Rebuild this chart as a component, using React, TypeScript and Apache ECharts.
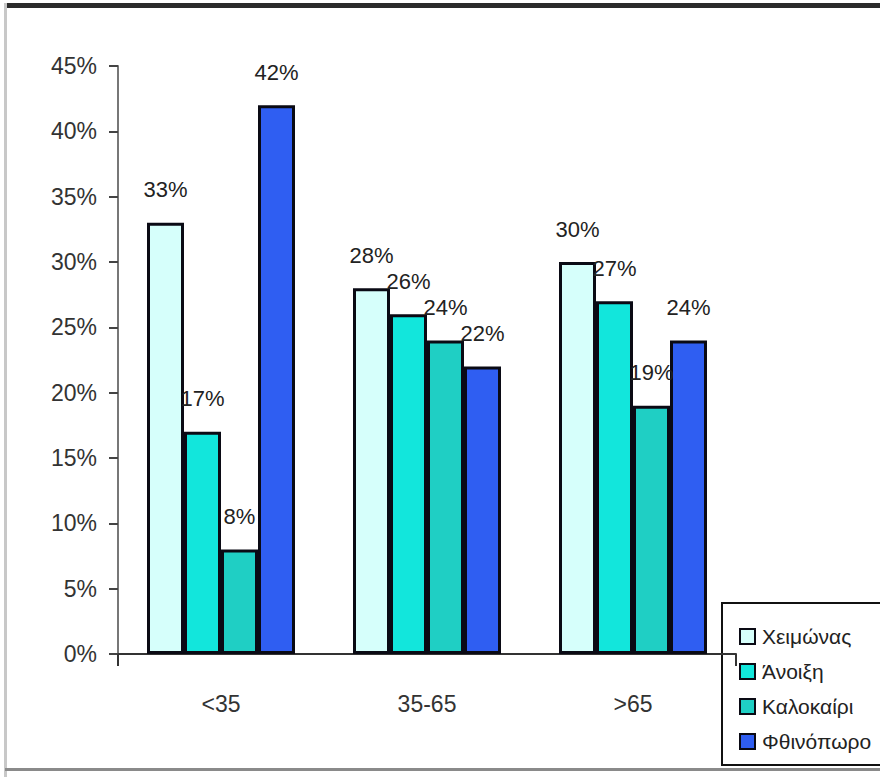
import React, { useEffect, useRef } from "react";
import * as echarts from "echarts";

const categories = ["<35", "35-65", ">65"];
const seriesNames = ["Χειμώνας", "Άνοιξη", "Καλοκαίρι", "Φθινόπωρο"];
const winter = [33, 28, 30];
const spring = [17, 26, 27];
const summer = [8, 24, 19];
const autumn = [42, 22, 24];
const seriesColors = ["#d6fffb", "#12e6dc", "#1fcfc4", "#2f5ef2"];

const FONT = "Liberation Sans, Arial, sans-serif";

export default function App() {
  const ref = useRef<HTMLDivElement>(null);
  useEffect(() => {
    if (!ref.current) return;
    const chart = echarts.init(ref.current, undefined, { renderer: "svg" });
    const values = [winter, spring, summer, autumn];
    chart.setOption({
      animation: false,
      backgroundColor: "#ffffff",
      textStyle: { fontFamily: FONT },
      grid: { left: 118, right: 144, top: 66, bottom: 123, containLabel: false },
      xAxis: {
        type: "category",
        data: categories,
        axisLine: { lineStyle: { color: "#333", width: 2 } },
        axisTick: { show: true, interval: (i: number) => i === 2, length: 12, lineStyle: { color: "#333", width: 2 } },
        axisLabel: { color: "#333", fontSize: 23, margin: 38, fontFamily: FONT },
      },
      yAxis: {
        type: "value",
        min: 0,
        max: 45,
        interval: 5,
        splitLine: { show: false },
        axisLine: { show: true, lineStyle: { color: "#777", width: 2 } },
        axisTick: { show: true, length: 9, lineStyle: { color: "#444", width: 2 } },
        axisLabel: { color: "#333", fontSize: 23, margin: 21, formatter: "{value}%", fontFamily: FONT },
      },
      legend: {
        orient: "vertical",
        left: 734,
        top: 621,
        itemWidth: 15,
        itemHeight: 15,
        itemGap: 14,
        icon: "rect",
        textStyle: { color: "#222", fontSize: 21, fontFamily: FONT, padding: [0, 0, 0, 2] },
        data: seriesNames,
      },
      graphic: [
        { type: "rect", shape: { x: 722, y: 603, width: 200, height: 162 }, style: { fill: "#fff", stroke: "#111", lineWidth: 2 }, z: -1 },
        { type: "rect", shape: { x: 5, y: 3, width: 875, height: 5 }, style: { fill: "#2b2b2b" } },
        { type: "rect", shape: { x: 4, y: 3, width: 3, height: 774 }, style: { fill: "#c8c8c8" } },
        { type: "rect", shape: { x: 5, y: 768, width: 875, height: 3 }, style: { fill: "#8a8a8a" } },
      ],
      series: seriesNames.map((name, k) => ({
        name,
        type: "bar",
        data: values[k],
        barWidth: 37,
        barGap: "0%",
        itemStyle: { color: seriesColors[k], borderColor: "#0a0a14", borderWidth: 3 },
        label: {
          show: true,
          position: "top",
          distance: 22,
          formatter: "{c}%",
          color: "#222",
          fontSize: 22,
          fontFamily: FONT,
        },
      })),
    });
    return () => chart.dispose();
  }, []);
  return <div ref={ref} style={{ width: 880, height: 777, position: "absolute", left: 0, top: 0 }} />;
}
